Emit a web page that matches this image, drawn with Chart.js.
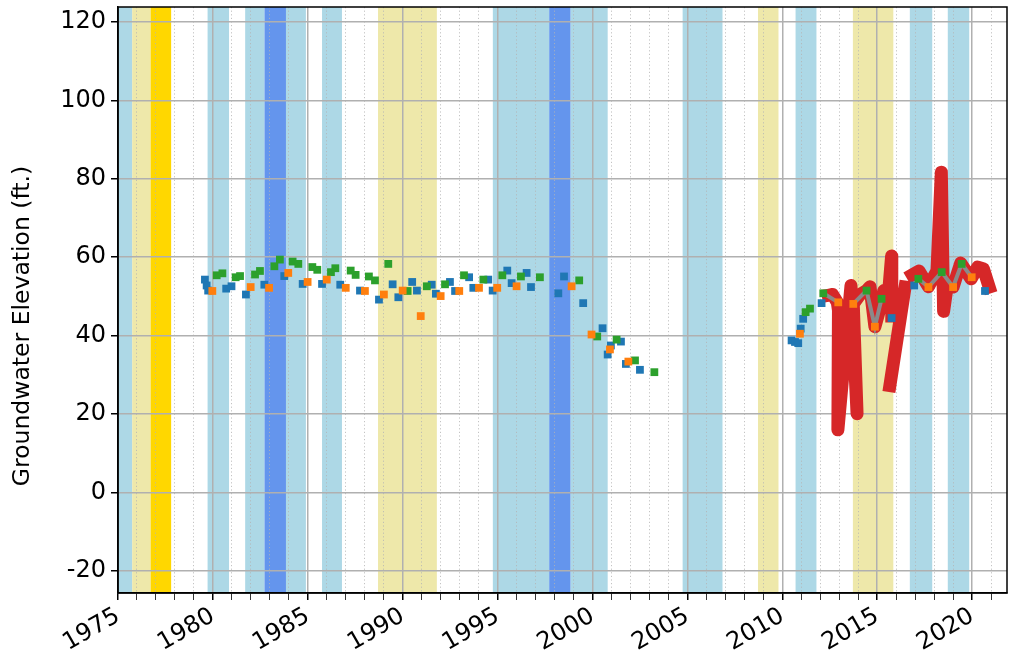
<!DOCTYPE html>
<html>
<head>
<meta charset="utf-8">
<title>Groundwater Elevation</title>
<script src="https://cdn.jsdelivr.net/npm/chart.js@4/dist/chart.umd.min.js"></script>
<style>
  html, body { margin: 0; padding: 0; background: #fff; }
</style>
</head>
<body>
<canvas id="gwChart" width="1009" height="668"></canvas>
<script>
// water year shading (decimal years) and its type
var bandStart = [1974.75, 1975.75, 1976.72, 1979.72, 1981.7, 1982.72, 1983.85, 1985.75, 1988.7, 1994.75, 1997.72, 1998.85, 2004.75, 2008.72, 2010.7, 2013.72, 2016.72, 2018.72];
var bandEnd   = [1975.75, 1976.72, 1977.8, 1980.85, 1982.72, 1983.85, 1984.9, 1986.8, 1991.8, 1997.72, 1998.85, 2000.8, 2006.85, 2009.8, 2011.8, 2015.85, 2017.9, 2019.85];
var bandType  = ['wet', 'dry', 'critical', 'wet', 'wet', 'veryWet', 'wet', 'wet', 'dry', 'wet', 'veryWet', 'wet', 'wet', 'dry', 'wet', 'dry', 'wet', 'wet'];

// manual measurements
var blueYears  = [1979.58, 1979.67, 1979.75, 1980.7, 1980.98, 1981.74, 1982.71, 1983.76, 1984.73, 1985.75, 1986.71, 1987.75, 1988.75, 1989.47, 1989.77, 1990.5, 1990.75, 1991.53, 1991.75, 1992.49, 1992.76, 1993.5, 1993.72, 1994.51, 1994.74, 1995.51, 1995.74, 1996.53, 1996.76, 1998.2, 1998.5, 1999.51, 2000.53, 2000.8, 2000.97, 2001.5, 2001.76, 2002.5, 2010.49, 2010.67, 2010.84, 2010.97, 2011.1, 2012.07, 2015.76, 2016.95, 2020.68];
var blueLevels = [54.3, 52.8, 51.5, 52.0, 52.6, 50.5, 53.0, 55.2, 53.2, 53.2, 53.0, 51.5, 49.2, 53.1, 49.8, 53.7, 51.5, 53.0, 50.7, 53.7, 51.4, 54.9, 52.2, 54.3, 51.5, 56.6, 53.4, 56.0, 52.4, 50.8, 55.1, 48.3, 41.9, 35.2, 37.5, 38.5, 32.8, 31.3, 38.8, 38.4, 38.1, 41.8, 44.3, 48.3, 44.5, 52.8, 51.4];

var orangeYears  = [1979.97, 1981.99, 1982.96, 1983.97, 1984.99, 1986.0, 1987.0, 1988.01, 1989.01, 1990.0, 1990.95, 1992.0, 1992.98, 1994.02, 1994.98, 1996.0, 1998.9, 1999.95, 2000.92, 2001.89, 2010.93, 2012.95, 2013.74, 2014.88, 2017.7, 2019.0, 2019.98];
var orangeLevels = [51.4, 52.4, 52.2, 56.0, 53.7, 54.3, 52.2, 51.4, 50.5, 51.5, 45.0, 50.1, 51.4, 52.2, 52.2, 52.6, 52.6, 40.3, 36.5, 33.4, 40.5, 48.5, 48.1, 42.3, 52.4, 52.4, 54.9];

var greenYears  = [1980.2, 1980.5, 1981.2, 1981.43, 1982.22, 1982.48, 1983.24, 1983.53, 1984.2, 1984.5, 1985.24, 1985.5, 1986.22, 1986.45, 1987.26, 1987.52, 1988.22, 1988.54, 1989.24, 1990.26, 1991.27, 1992.23, 1993.23, 1994.25, 1995.25, 1996.23, 1997.23, 1999.3, 2000.25, 2001.27, 2002.24, 2003.26, 2011.23, 2011.46, 2012.16, 2014.44, 2015.23, 2017.17, 2018.4, 2019.45];
var greenLevels = [55.4, 55.9, 54.9, 55.2, 55.6, 56.5, 57.7, 59.4, 58.9, 58.3, 57.5, 56.8, 56.2, 57.2, 56.6, 55.5, 55.1, 54.1, 58.3, 51.4, 52.6, 53.1, 55.4, 54.3, 55.4, 55.1, 54.9, 54.1, 39.8, 39.0, 33.7, 30.7, 46.0, 46.9, 50.8, 51.5, 49.4, 54.5, 56.2, 58.3];

// transducer record, null = no data
var redYears  = [2012.42, 2012.65, 2012.9, 2012.96, 2012.93, 2013.62, 2013.94, 2013.74, 2014.1, 2014.44, 2014.62, 2014.88, 2015.15, 2015.35, 2015.55, 2015.76, 2015.77, 2015.7, 2015.67, 2016.47, 2016.7, 2016.85, 2017.2, 2017.7, 2018.15, 2018.38, 2018.5, 2018.7, 2019.0, 2019.4, 2019.95, 2020.3, 2020.6, 2020.9];
var redLevels = [50.3, 50.5, 48.5, 46.5, 16.0, 52.8, 20.1, 48.1, 50.5, 51.5, 52.5, 42.3, 47.0, 51.5, 48.0, 60.3, 45.0, null, 27.3, 52.4, null, 55.5, 56.5, 52.5, 56.5, 81.7, 46.2, 53.0, 52.4, 58.5, 54.5, 57.5, 57.0, 52.4];

var grayYears  = [2012.16, 2012.95, 2013.3, 2013.74, 2014.44, 2014.88, 2015.23, 2016.0, 2017.17, 2017.7, 2018.4, 2019.0, 2019.45, 2019.98];
var grayLevels = [50.8, 48.5, null, 48.1, 51.5, 42.3, 49.4, null, 54.5, 52.4, 56.2, 52.4, 58.3, 54.9];

var yearTicks = [];
for (var yr = 1975; yr <= 2021; yr++) yearTicks.push(yr);
var elevTicks = [-20, 0, 20, 40, 60, 80, 100, 120];
var yLabel = 'Groundwater Elevation (ft.)';

var bandColors = {
  wet: '#add8e6',
  veryWet: '#6495ed',
  dry: '#eee8aa',
  critical: '#ffd700'
};

var gridGray = '#b0b0b0';
var tickFont = { family: 'DejaVu Sans', size: 24 };

function toPoints(xs, ys) {
  var pts = [];
  for (var i = 0; i < xs.length; i++) pts.push({ x: xs[i], y: ys[i] });
  return pts;
}

function isMajorYear(ctx) {
  return ctx.tick && ctx.tick.value % 5 === 0;
}

// shading goes under the grid, so draw it before anything else
var waterYearBands = {
  id: 'waterYearBands',
  beforeDraw: function (chart) {
    var ctx = chart.ctx;
    var area = chart.chartArea;
    var xs = chart.scales.x;
    ctx.save();
    ctx.beginPath();
    ctx.rect(area.left, area.top, area.right - area.left, area.bottom - area.top);
    ctx.clip();
    for (var i = 0; i < bandStart.length; i++) {
      var x0 = xs.getPixelForValue(bandStart[i]);
      var x1 = xs.getPixelForValue(bandEnd[i]);
      ctx.fillStyle = bandColors[bandType[i]];
      ctx.fillRect(x0, area.top, x1 - x0, area.bottom - area.top);
    }
    ctx.restore();
  }
};

// black box around the plot + the y axis label
var frame = {
  id: 'frame',
  afterDraw: function (chart) {
    var ctx = chart.ctx;
    var a = chart.chartArea;
    ctx.save();
    ctx.strokeStyle = '#000';
    ctx.lineWidth = 1.5;
    ctx.strokeRect(a.left, a.top, a.right - a.left, a.bottom - a.top);

    ctx.translate(23, (a.top + a.bottom) / 2 + 26);
    ctx.rotate(-Math.PI / 2);
    ctx.fillStyle = '#000';
    ctx.font = '23.5px "DejaVu Sans"';
    ctx.textAlign = 'center';
    ctx.textBaseline = 'middle';
    ctx.fillText(yLabel, 0, 0);
    ctx.restore();
  }
};

var pointStyleOpts = { pointStyle: 'rect', pointRadius: 5.5, borderWidth: 0, showLine: false };

new Chart(document.getElementById('gwChart'), {
  type: 'scatter',
  data: {
    datasets: [
      Object.assign({ label: 'orange', data: toPoints(orangeYears, orangeLevels), backgroundColor: '#ff7f0e', order: 1 }, pointStyleOpts),
      Object.assign({ label: 'green', data: toPoints(greenYears, greenLevels), backgroundColor: '#2ca02c', order: 2 }, pointStyleOpts),
      Object.assign({ label: 'blue', data: toPoints(blueYears, blueLevels), backgroundColor: '#1f77b4', order: 3 }, pointStyleOpts),
      {
        label: 'gray',
        type: 'line',
        data: toPoints(grayYears, grayLevels),
        borderColor: '#8a8a8a',
        borderWidth: 4,
        pointRadius: 0,
        spanGaps: false,
        tension: 0,
        order: 4
      },
      {
        label: 'red',
        type: 'line',
        data: toPoints(redYears, redLevels),
        borderColor: '#d62728',
        borderWidth: 13,
        borderJoinStyle: 'round',
        borderCapStyle: 'square',
        pointRadius: 0,
        spanGaps: false,
        tension: 0,
        order: 5
      }
    ]
  },
  options: {
    responsive: false,
    animation: false,
    events: [],
    layout: { autoPadding: false, padding: { top: 7, right: 2, left: 0, bottom: 0 } },
    plugins: {
      legend: { display: false },
      tooltip: { enabled: false }
    },
    scales: {
      x: {
        type: 'linear',
        min: 1975,
        max: 2021.84,
        afterBuildTicks: function (s) {
          s.ticks = yearTicks.map(function (v) { return { value: v }; });
        },
        afterFit: function (s) {
          s.height = 75;
          s.paddingLeft = 0;
          s.paddingRight = 0;
        },
        ticks: {
          autoSkip: false,
          minRotation: 30,
          maxRotation: 30,
          padding: 2,
          color: '#000',
          font: tickFont,
          callback: function (v) { return v % 5 === 0 ? String(v) : ''; }
        },
        grid: {
          color: function (ctx) { return isMajorYear(ctx) ? gridGray : '#b4b4b4'; },
          lineWidth: function (ctx) { return isMajorYear(ctx) ? 1.5 : 0.8; },
          tickColor: '#000',
          tickLength: 7
        },
        border: {
          color: '#000',
          width: 1.5,
          dash: function (ctx) { return ctx.tick && ctx.tick.value % 5 !== 0 ? [1.2, 2.4] : []; }
        }
      },
      y: {
        min: -25.6,
        max: 123.8,
        afterBuildTicks: function (s) {
          s.ticks = elevTicks.map(function (v) { return { value: v }; });
        },
        afterFit: function (s) {
          s.width = 118;
          s.paddingTop = 0;
          s.paddingBottom = 0;
        },
        ticks: {
          padding: 5,
          color: '#000',
          font: tickFont,
          callback: function (v) { return String(v); }
        },
        grid: {
          color: gridGray,
          lineWidth: 1.5,
          tickColor: '#000',
          tickLength: 7
        },
        border: { color: '#000', width: 1.5 }
      }
    }
  },
  plugins: [waterYearBands, frame]
});
</script>
</body>
</html>
